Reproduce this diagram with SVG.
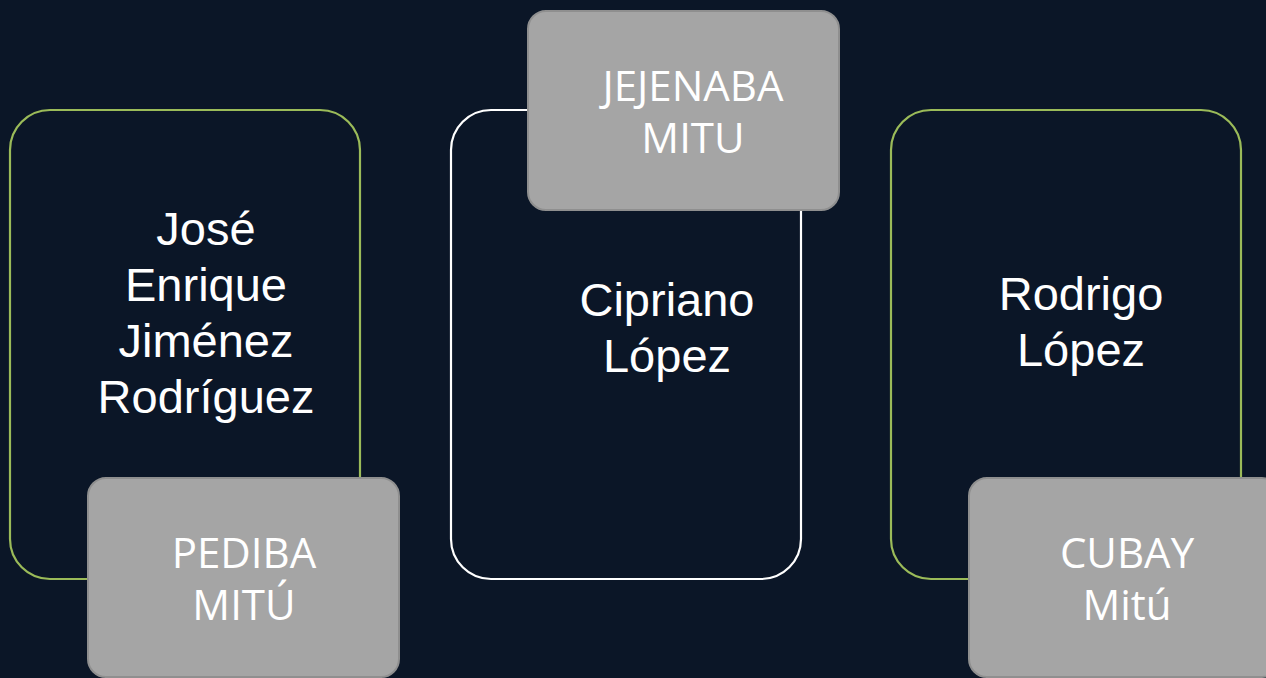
<svg xmlns="http://www.w3.org/2000/svg" width="1266" height="678" viewBox="0 0 1266 678">
<style>
.outer{fill:#0b1627;stroke-width:2.2}
.green{stroke:#9bbb59}
.white{stroke:#ffffff}
.tag{fill:#a5a5a5;stroke:#8f8f8f;stroke-width:2}
.name{font-family:"Liberation Sans",Arial,sans-serif;font-size:47px;fill:#ffffff;text-anchor:middle}
.lbl{font-family:"Open Sans","Noto Sans",sans-serif;font-size:42px;fill:#ffffff;text-anchor:middle}
</style>
<rect width="1266" height="678" fill="#0b1627"/>
<g id="connectors"/>
<g id="node-left">
<rect class="outer green" x="10" y="110" width="350" height="469" rx="40"/>
<text class="name" x="206"><tspan x="206" y="245">José</tspan><tspan x="206" y="301">Enrique</tspan><tspan x="206" y="357">Jiménez</tspan><tspan x="206" y="413">Rodríguez</tspan></text>
</g>
<g id="tag-left">
<rect class="tag" x="88" y="478" width="311" height="199" rx="18"/>
<text class="lbl"><tspan x="244" y="568">PEDIBA</tspan><tspan x="244" y="620">MITÚ</tspan></text>
</g>
<g id="node-center">
<rect class="outer white" x="451" y="110" width="350" height="469" rx="40"/>
<text class="name"><tspan x="667" y="316">Cipriano</tspan><tspan x="667" y="372">López</tspan></text>
</g>
<g id="tag-center">
<rect class="tag" x="528" y="11" width="311" height="199" rx="18"/>
<text class="lbl"><tspan x="693" y="101">JEJENABA</tspan><tspan x="693" y="153">MITU</tspan></text>
</g>
<g id="node-right">
<rect class="outer green" x="891" y="110" width="350" height="469" rx="40"/>
<text class="name"><tspan x="1081" y="310">Rodrigo</tspan><tspan x="1081" y="366">López</tspan></text>
</g>
<g id="tag-right">
<rect class="tag" x="969" y="478" width="311" height="199" rx="18"/>
<text class="lbl"><tspan x="1127" y="568">CUBAY</tspan><tspan x="1127" y="620">Mitú</tspan></text>
</g>
</svg>
